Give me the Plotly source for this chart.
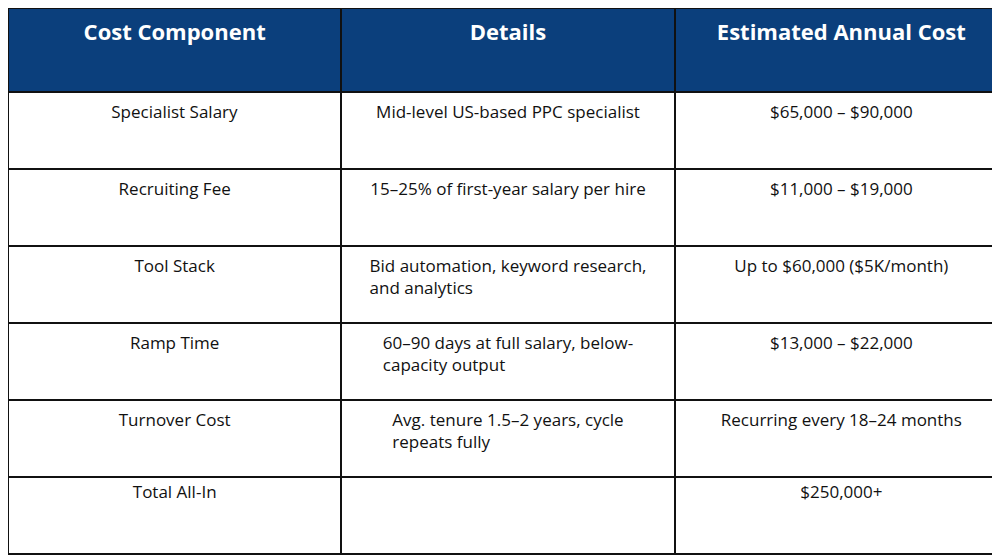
import plotly.graph_objects as go

headers = ["Cost Component", "Details", "Estimated Annual Cost"]
components = ["Specialist Salary", "Recruiting Fee", "Tool Stack", "Ramp Time",
              "Turnover Cost", "Total All-In"]
details = ["Mid-level US-based PPC specialist",
           "15–25% of first-year salary per hire",
           "Bid automation, keyword research,<br>and analytics",
           "60–90 days at full salary, below-<br>capacity output",
           "Avg. tenure 1.5–2 years, cycle<br>repeats fully",
           ""]
costs = ["$65,000 – $90,000", "$11,000 – $19,000", "Up to $60,000 ($5K/month)",
         "$13,000 – $22,000", "Recurring every 18–24 months", "$250,000+"]


# plotly tables have no vertical centering, so push single-line cells down a line
def centre(col, last_short=True):
    out = []
    for i, t in enumerate(col):
        if "<br>" in t or t == "":
            out.append(t)
        elif i == len(col) - 1:
            out.append(t)
        else:
            out.append("<br>" + t)
    return out


fig = go.Figure(go.Table(
    columnwidth=[1, 1, 1],
    header=dict(values=["<br><b>%s</b>" % h for h in headers],
                fill_color="#0b3f7c", line=dict(color="#111111", width=2),
                align="center", height=84,
                font=dict(family="Open Sans", size=22, color="white")),
    cells=dict(values=[centre(components), centre(details), centre(costs)],
               fill_color="white", line=dict(color="#111111", width=2),
               align="center", height=77,
               font=dict(family="Open Sans", size=17, color="#111111")),
))
fig.update_layout(width=1000, height=558, margin=dict(l=0, r=0, t=0, b=0),
                  paper_bgcolor="white")
fig.write_html("out.html")
